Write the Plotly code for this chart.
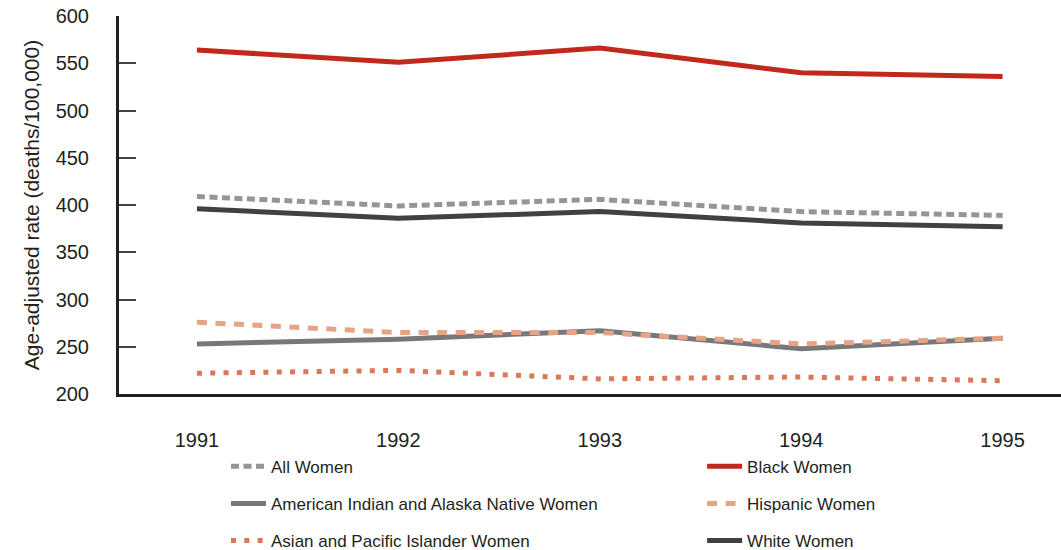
import plotly.graph_objects as go

years = [1991, 1992, 1993, 1994, 1995]
all_women = [409, 399, 406, 393, 389]
black_women = [564, 551, 566, 540, 536]
white_women = [396, 386, 393, 381, 377]
hispanic_women = [276, 265, 265, 253, 259]
aian_women = [253, 258, 267, 248, 259]
api_women = [222, 225, 216, 218, 214]

y_ticks = [200, 250, 300, 350, 400, 450, 500, 550, 600]

FONT = "Liberation Sans, Arial, sans-serif"
TXT = "#231f20"

series = [
    # name, values, color, dash, legend, rank
    ("American Indian and Alaska Native Women", aian_women, "#77787b", "solid", "legend", 2),
    ("Hispanic Women", hispanic_women, "#e6a486", "10px,8.5px", "legend2", 2),
    ("Asian and Pacific Islander Women", api_women, "#dc7858", "5px,8.3px", "legend", 3),
    ("White Women", white_women, "#414042", "solid", "legend2", 3),
    ("All Women", all_women, "#939598", "8px,4.5px", "legend", 1),
    ("Black Women", black_women, "#c2291c", "solid", "legend2", 1),
]

fig = go.Figure()
for i, (name, vals, color, dash, leg, rank) in enumerate(series):
    fig.add_trace(go.Scatter(
        x=years, y=vals, mode="lines", name=name,
        line=dict(color=color, width=5, dash=dash),
        legend=leg, legendrank=rank, legendgroup=name,
    ))

legend_common = dict(
    orientation="v", xanchor="left", yanchor="top",
    font=dict(family=FONT, size=17, color=TXT),
    bgcolor="rgba(0,0,0,0)", tracegroupgap=12, itemwidth=35,
)

fig.update_layout(
    width=1061, height=550,
    margin=dict(l=119, r=0, t=16, b=156, autoexpand=False),
    paper_bgcolor="white", plot_bgcolor="white",
    font=dict(family=FONT, color=TXT),
    showlegend=True,
    legend=dict(x=0.1136, y=-0.145, **legend_common),
    legend2=dict(x=0.619, y=-0.145, **legend_common),
    xaxis=dict(
        range=[1990.613, 1995.29], tickvals=years, ticktext=[str(y) for y in years],
        showgrid=False, zeroline=False, showline=True, linecolor=TXT, linewidth=3,
        ticks="", tickfont=dict(family=FONT, size=20, color=TXT), ticklabelstandoff=26,
    ),
    yaxis=dict(
        range=[200, 600], tickvals=y_ticks, showgrid=False, zeroline=False,
        showline=True, linecolor=TXT, linewidth=3,
        ticks="inside", ticklen=17, tickwidth=2, tickcolor="#414042",
        tickfont=dict(family=FONT, size=20, color=TXT), ticklabelstandoff=23,
        ticklabeloverflow="allow",
        title=dict(text="Age-adjusted rate (deaths/100,000)", font=dict(family=FONT, size=21, color=TXT), standoff=11),
    ),
)

fig.write_html("out.html", config={"displayModeBar": False},
               post_script="document.body.style.margin='0';")
